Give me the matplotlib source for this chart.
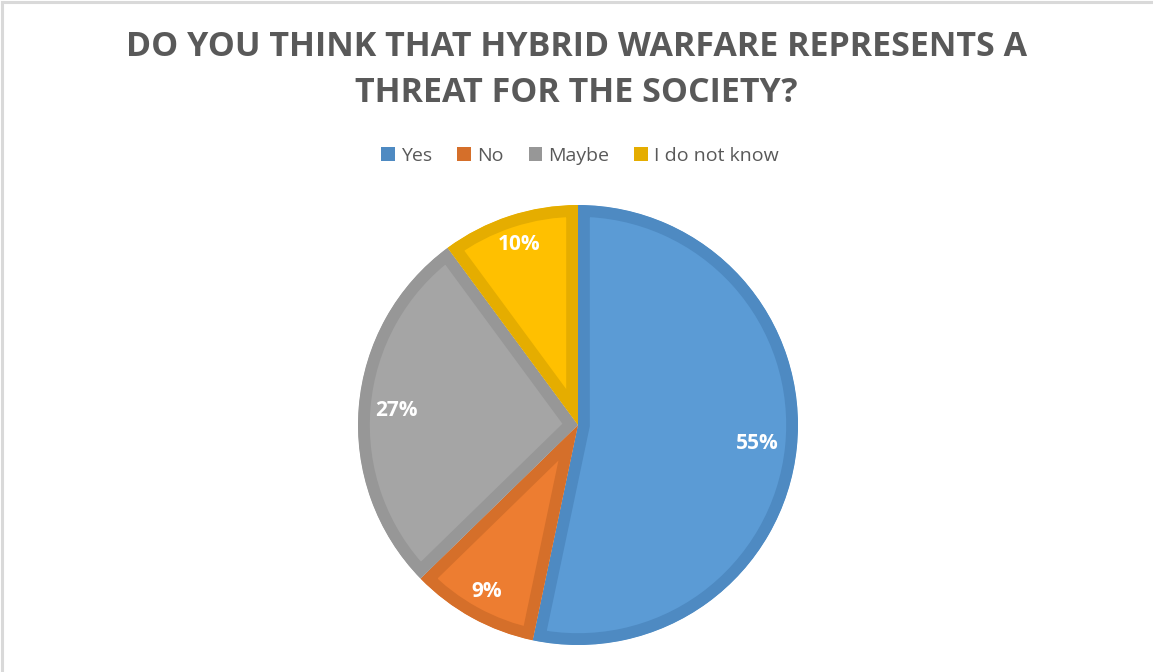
import matplotlib
matplotlib.use("Agg")
import matplotlib.pyplot as plt
import numpy as np
from matplotlib.patches import Rectangle
from matplotlib.lines import Line2D

categories = ["Yes", "No", "Maybe", "I do not know"]
shares = [53.3, 9.4, 27.2, 10.1]
pct_labels = ["55%", "9%", "27%", "10%"]
title = "DO YOU THINK THAT HYBRID WARFARE REPRESENTS A\nTHREAT FOR THE SOCIETY?"

face_colors = ["#5B9BD5", "#ED7D31", "#A5A5A5", "#FFC000"]
edge_colors = ["#4E8AC2", "#D56F2A", "#979797", "#E5AD00"]
label_dist = [0.82, 0.865, 0.83, 0.865]

W, H = 1153, 672
fig = plt.figure(figsize=(W / 100, H / 100), dpi=100)
fig.patch.set_facecolor("white")

# Chart border (top and left visible)
fig.add_artist(Line2D([1.5 / W, 1.5 / W], [0, 1 - 1.5 / H], transform=fig.transFigure,
                      color="#D9D9D9", lw=2.2))
fig.add_artist(Line2D([1.5 / W, 1], [1 - 1.5 / H, 1 - 1.5 / H], transform=fig.transFigure,
                      color="#D9D9D9", lw=2.2))

cx, cy, R = 578, 425, 220
ax = fig.add_axes([(cx - R) / W, (H - cy - R) / H, 2 * R / W, 2 * R / H])

wedges, _ = ax.pie(shares, colors=face_colors, startangle=90, counterclock=False,
                   radius=1.0, wedgeprops=dict(linewidth=17, joinstyle="miter"))
ax.set_xlim(-1, 1)
ax.set_ylim(-1, 1)
ax.set_aspect("equal")
ax.axis("off")
for w, ec in zip(wedges, edge_colors):
    w.set_edgecolor(ec)
    w.set_clip_on(True)
    w.set_clip_path(w.get_path(), ax.transData)

total = sum(shares)
start = 90.0
for s, lab, r in zip(shares, pct_labels, label_dist):
    ang = start - s / total * 360 / 2
    start -= s / total * 360
    ax.text(r * np.cos(np.radians(ang)), r * np.sin(np.radians(ang)), lab,
            ha="center", va="center", color="white", fontsize=15, fontweight="bold",
            family="Open Sans")

fig.text(0.5, 1 - 70 / H, title, ha="center", va="center", fontsize=24.5,
         fontweight="bold", color="#595959", family="Open Sans", linespacing=1.45)

handles = [Rectangle((0, 0), 1, 1, facecolor=c, edgecolor="none") for c in edge_colors]
fig.legend(handles, categories, loc="center", bbox_to_anchor=(0.503, 1 - 156 / H),
           ncol=4, frameon=False, handlelength=0.7, handleheight=0.7,
           handletextpad=0.3, columnspacing=1.3, labelcolor="#595959",
           prop=dict(family="Open Sans", size=14))

fig.savefig("out.png", dpi=100, facecolor="white")
